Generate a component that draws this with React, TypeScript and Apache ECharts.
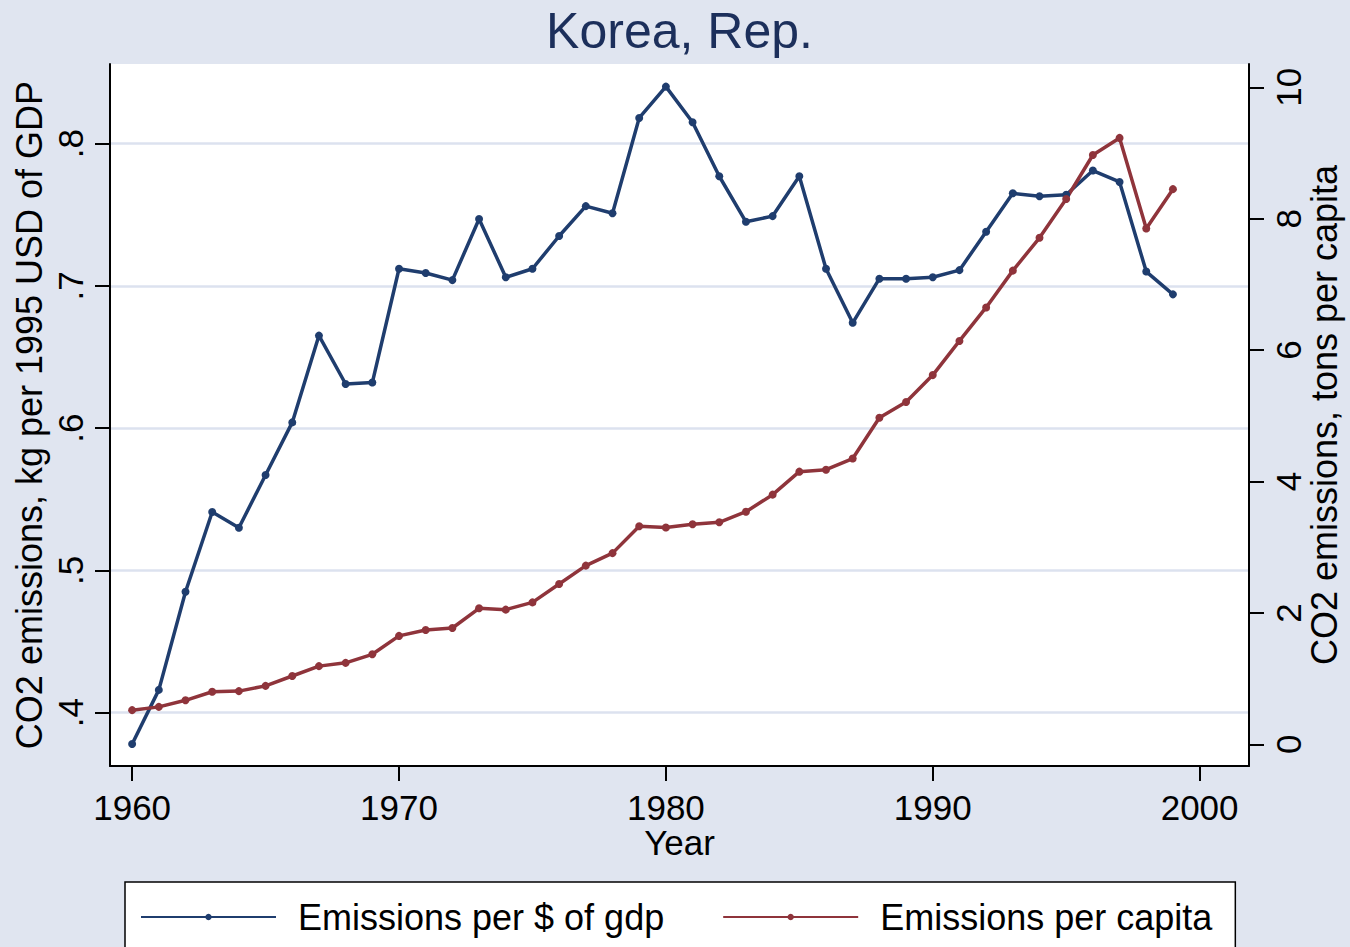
import React, { useEffect, useRef } from "react";
import * as echarts from "echarts";

const years = [
  1960, 1961, 1962, 1963, 1964, 1965, 1966, 1967, 1968, 1969,
  1970, 1971, 1972, 1973, 1974, 1975, 1976, 1977, 1978, 1979,
  1980, 1981, 1982, 1983, 1984, 1985, 1986, 1987, 1988, 1989,
  1990, 1991, 1992, 1993, 1994, 1995, 1996, 1997, 1998, 1999,
];

const perGdp = [
  0.378, 0.416, 0.485, 0.541, 0.530, 0.567, 0.604, 0.665, 0.631, 0.632,
  0.712, 0.709, 0.704, 0.747, 0.706, 0.712, 0.735, 0.756, 0.751, 0.818,
  0.840, 0.815, 0.777, 0.745, 0.749, 0.777, 0.712, 0.674, 0.705, 0.705,
  0.706, 0.711, 0.738, 0.765, 0.763, 0.764, 0.781, 0.773, 0.710, 0.694,
];

const perCapita = [
  0.52, 0.57, 0.67, 0.80, 0.81, 0.89, 1.04, 1.19, 1.24, 1.37,
  1.65, 1.74, 1.77, 2.07, 2.05, 2.16, 2.44, 2.72, 2.91, 3.32,
  3.30, 3.35, 3.38, 3.54, 3.80, 4.15, 4.18, 4.35, 4.97, 5.21,
  5.62, 6.14, 6.65, 7.21, 7.71, 8.30, 8.97, 9.23, 7.85, 8.45,
];

const xTicks = [1960, 1970, 1980, 1990, 2000];
const leftTicks = [0.4, 0.5, 0.6, 0.7, 0.8];
const rightTicks = [0, 2, 4, 6, 8, 10];

const titleText = "Korea, Rep.";
const xName = "Year";
const leftName = "CO2 emissions, kg per 1995 USD of GDP";
const rightName = "CO2 emissions, tons per capita";
const seriesNames = ["Emissions per $ of gdp", "Emissions per capita"];

const FONT = "'Liberation Sans', Arial, Helvetica, sans-serif";
const BG = "#e0e5f0";
const BLUE = "#1f3d6e";
const RED = "#8f343b";

export default function App() {
  const ref = useRef<HTMLDivElement>(null);

  useEffect(() => {
    if (!ref.current) return;
    const chart = echarts.init(ref.current, null, { renderer: "svg" });

    const axisLine = { show: true, onZero: false, lineStyle: { color: "#000", width: 2 } };
    const axisTickBase = { show: true, length: 15, inside: false, lineStyle: { color: "#000", width: 2 } };

    chart.setOption({
      animation: false,
      backgroundColor: BG,
      textStyle: { fontFamily: FONT },
      title: {
        text: titleText,
        left: 679.5,
        textAlign: "center",
        top: 6,
        padding: 0,
        textStyle: { fontSize: 50, fontWeight: "normal", color: "#1c2f5b", fontFamily: FONT },
      },
      grid: {
        left: 110,
        right: 101,
        top: 64,
        bottom: 181,
        show: true,
        backgroundColor: "#ffffff",
        borderWidth: 0,
        containLabel: false,
        outerBoundsMode: "none",
      },
      legend: {
        left: 125,
        top: 882,
        orient: "horizontal",
        itemWidth: 135,
        itemHeight: 8,
        itemGap: 58,
        padding: [17, 23, 30, 15],
        backgroundColor: "#ffffff",
        borderColor: "#000",
        borderWidth: 1.5,
        textStyle: { fontSize: 36, color: "#000", fontFamily: FONT, padding: [0, 0, 0, 17] },
        data: seriesNames,
      },
      xAxis: {
        type: "value",
        min: 1959.17,
        max: 2001.85,
        axisLine,
        axisTick: { ...axisTickBase, customValues: xTicks },
        axisLabel: {
          customValues: xTicks,
          fontSize: 35,
          lineHeight: 32,
          color: "#000",
          margin: 25,
          fontFamily: FONT,
          formatter: (v: number) => String(Math.round(v)),
        },
        splitLine: { show: false },
        name: xName,
        nameLocation: "middle",
        nameGap: 60,
        nameMoveOverlap: false,
        nameTextStyle: { fontSize: 35, lineHeight: 32, color: "#000", fontFamily: FONT },
      },
      yAxis: [
        {
          type: "value",
          position: "left",
          min: 0.3625,
          max: 0.8559,
          axisLine,
          axisTick: { ...axisTickBase, customValues: leftTicks },
          axisLabel: {
            customValues: leftTicks,
            rotate: 90,
            fontSize: 35,
            color: "#000",
            margin: 22,
            fontFamily: FONT,
            formatter: (v: number) => "." + Math.round(v * 10),
          },
          splitLine: { show: true, lineStyle: { color: "#dce2ef", width: 2.5 } },
          name: leftName,
          nameLocation: "middle",
          nameRotate: 90,
          nameGap: 63,
          nameMoveOverlap: false,
          nameTextStyle: { fontSize: 36, color: "#000", fontFamily: FONT },
        },
        {
          type: "value",
          position: "right",
          min: -0.33,
          max: 10.355,
          axisLine,
          axisTick: { ...axisTickBase, customValues: rightTicks },
          axisLabel: {
            customValues: rightTicks,
            rotate: 90,
            fontSize: 35,
            color: "#000",
            margin: 22,
            fontFamily: FONT,
          },
          splitLine: { show: false },
          name: rightName,
          nameLocation: "middle",
          nameRotate: 90,
          nameGap: 57,
          nameMoveOverlap: false,
          nameTextStyle: { fontSize: 36, color: "#000", fontFamily: FONT },
        },
      ],
      series: [
        {
          name: seriesNames[0],
          type: "line",
          yAxisIndex: 0,
          data: years.map((y, i) => [y, perGdp[i]]),
          symbol: "circle",
          symbolSize: 8,
          showSymbol: true,
          lineStyle: { color: BLUE, width: 3.5 },
          itemStyle: { color: BLUE },
        },
        {
          name: seriesNames[1],
          type: "line",
          yAxisIndex: 1,
          data: years.map((y, i) => [y, perCapita[i]]),
          symbol: "circle",
          symbolSize: 8,
          showSymbol: true,
          lineStyle: { color: RED, width: 3.5 },
          itemStyle: { color: RED },
        },
      ],
    });

    return () => chart.dispose();
  }, []);

  return (
    <div
      ref={ref}
      style={{ position: "fixed", left: 0, top: 0, width: 1350, height: 947 }}
    />
  );
}
